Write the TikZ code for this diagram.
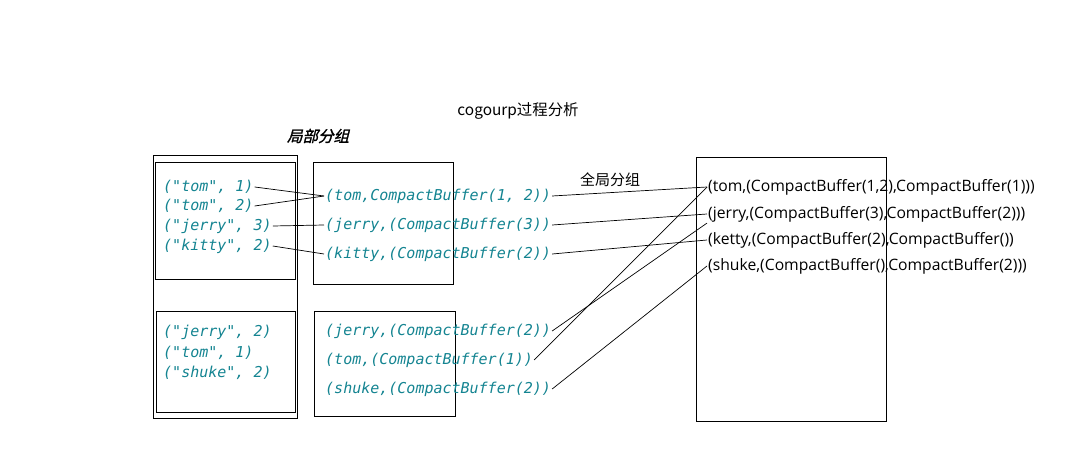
\documentclass[tikz,border=0pt]{standalone}
\usepackage{fontspec}
\setmainfont{Open Sans}
\newfontfamily\cjk{Noto Sans CJK SC}
\newfontfamily\cjkbi{Noto Sans CJK SC}[FakeSlant=0.25,FakeBold=1.5]
\newfontfamily\codefont{DejaVu Sans Mono}[ItalicFont={DejaVu Sans Mono Oblique}]
\usepackage{tikz}
\usetikzlibrary{positioning}
\definecolor{pairTeal}{RGB}{20,132,145}

\tikzset{
  grpBox/.style={draw,line width=1pt},
  pairText/.style={anchor=west,inner sep=1pt,text=pairTeal,font=\codefont\itshape\fontsize{15}{15}\selectfont},
  bufText/.style={anchor=west,inner sep=1pt,text=pairTeal,font=\codefont\itshape\fontsize{15}{15}\selectfont},
  sumText/.style={anchor=west,inner sep=1pt,font=\fontsize{15.7}{16}\selectfont},
  link/.style={draw,line width=0.7pt}
}

\begin{document}
\begin{tikzpicture}[x=1pt,y=-1pt]
  \useasboundingbox (0,0) rectangle (1072,468);
  \node[font=\cjk\fontsize{15.4}{15}\selectfont] (title) at (518,111) {cogourp过程分析};
  \node[font=\cjkbi\fontsize{15.5}{15}\selectfont] (localT) at (318,136) {局部分组};
  \node[font=\cjk\fontsize{15}{15}\selectfont] (globalT) at (610,180) {全局分组};

  \draw[grpBox] (153,156) rectangle (297,418);
  \draw[grpBox] (155,163) rectangle (295,279);
  \draw[grpBox] (156,311) rectangle (295,412);
  \draw[grpBox] (313,163) rectangle (453,284);
  \draw[grpBox] (314,311) rectangle (455,416);
  \draw[grpBox] (696,158) rectangle (886,421);

  \node[pairText] (p1) at (162,187) {("tom", 1)};
  \node[pairText] (p2) at (162,206) {("tom", 2)};
  \node[pairText] (p3) at (162,226) {("jerry", 3)};
  \node[pairText] (p4) at (162,246) {("kitty", 2)};
  \node[pairText] (p5) at (162,332) {("jerry", 2)};
  \node[pairText] (p6) at (162,353) {("tom", 1)};
  \node[pairText] (p7) at (162,373) {("shuke", 2)};

  \node[bufText] (b1) at (324,196) {(tom,CompactBuffer(1, 2))};
  \node[bufText] (b2) at (324,225) {(jerry,(CompactBuffer(3))};
  \node[bufText] (b3) at (324,254) {(kitty,(CompactBuffer(2))};
  \node[bufText] (b4) at (324,331) {(jerry,(CompactBuffer(2))};
  \node[bufText] (b5) at (324,360) {(tom,(CompactBuffer(1))};
  \node[bufText] (b6) at (324,389) {(shuke,(CompactBuffer(2))};

  \node[sumText] (s1) at (707,187) {(tom,(CompactBuffer(1,2),CompactBuffer(1)))};
  \node[sumText] (s2) at (707,214) {(jerry,(CompactBuffer(3),CompactBuffer(2)))};
  \node[sumText] (s3) at (707,240) {(ketty,(CompactBuffer(2),CompactBuffer())};
  \node[sumText] (s4) at (707,266) {(shuke,(CompactBuffer(),CompactBuffer(2)))};

  \draw[link] (p1.east) -- (b1.west);
  \draw[link] (p2.east) -- (b1.west);
  \draw[link] (p3.east) -- (b2.west);
  \draw[link] (p4.east) -- (b3.west);
  \draw[link] (b1.east) -- (s1.west);
  \draw[link] (b2.east) -- (s2.west);
  \draw[link] (b3.east) -- (s3.west);
  \draw[link] (b4.east) -- (s2.south west);
  \draw[link] (b5.east) -- (s1.west);
  \draw[link] (b6.east) -- (s4.west);
\end{tikzpicture}
\end{document}
